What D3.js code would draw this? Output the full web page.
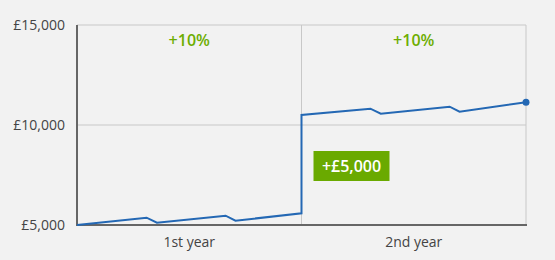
<!DOCTYPE html>
<html>
<head>
<meta charset="utf-8">
<script src="https://cdn.jsdelivr.net/npm/d3@7"></script>
<style>
  body { margin: 0; background: #f2f2f2; }
  svg { display: block; font-family: "Open Sans", sans-serif; }
</style>
</head>
<body>
<svg id="chart" width="555" height="260"></svg>
<script>
// balance over two years (x in years, y in pounds)
var years = [0, 0.31, 0.356, 0.662, 0.706, 1, 1, 1.307, 1.353, 1.66, 1.704, 2]
var balance = [5000, 5365, 5115, 5465, 5215, 5585, 10500, 10815, 10565, 10915, 10665, 11135]
var yTicks = [5000, 10000, 15000]
var periods = ['1st year', '2nd year']
var growthLabels = ['+10%', '+10%']
var depositLabel = '+£5,000'

var svg = d3.select('#chart')
var margin = {top: 25, right: 29, bottom: 35, left: 77}
var width = 555 - margin.left - margin.right
var height = 260 - margin.top - margin.bottom

var g = svg.append('g')
	.attr('transform', 'translate(' + margin.left + ',' + margin.top + ')')

var x = d3.scaleLinear().domain([0, 2]).range([0, width])
var y = d3.scaleLinear().domain([5000, 15000]).range([height, 0])
var band = d3.scaleBand().domain(periods).range([0, width])

// grid
g.selectAll('.hgrid')
	.data(yTicks.slice(1))
	.join('line')
		.attr('x1', 0).attr('x2', width)
		.attr('y1', d => y(d)).attr('y2', d => y(d))
		.attr('stroke', '#c8c8c8')

g.selectAll('.vgrid')
	.data([1, 2])
	.join('line')
		.attr('x1', d => x(d)).attr('x2', d => x(d))
		.attr('y1', 0).attr('y2', height)
		.attr('stroke', '#c8c8c8')

// y tick labels
g.selectAll('.ylab')
	.data(yTicks)
	.join('text')
		.attr('x', -12)
		.attr('y', d => y(d))
		.attr('dy', '0.35em')
		.attr('text-anchor', 'end')
		.attr('font-size', 14)
		.attr('fill', '#444')
		.text(d => '£' + d3.format(',')(d))

// x category labels
g.selectAll('.xlab')
	.data(periods)
	.join('text')
		.attr('x', d => band(d) + band.bandwidth() / 2)
		.attr('y', height + 22)
		.attr('text-anchor', 'middle')
		.attr('font-size', 14)
		.attr('fill', '#444')
		.text(d => d)

// growth labels
g.selectAll('.growth')
	.data(growthLabels)
	.join('text')
		.attr('x', (d, i) => band(periods[i]) + band.bandwidth() / 2)
		.attr('y', 21)
		.attr('text-anchor', 'middle')
		.attr('font-size', 16)
		.attr('font-weight', 600)
		.attr('fill', '#6cad00')
		.text(d => d)

// axes lines
g.append('line')
	.attr('x1', 0).attr('x2', 0).attr('y1', 0).attr('y2', height)
	.attr('stroke', '#666').attr('stroke-width', 2)
g.append('line')
	.attr('x1', -1).attr('x2', width + 1).attr('y1', height).attr('y2', height)
	.attr('stroke', '#666').attr('stroke-width', 2)

// line
var pts = years.map((d, i) => [d, balance[i]])
var line = d3.line().x(d => x(d[0])).y(d => y(d[1]))
g.append('path')
	.datum(pts)
	.attr('d', line)
	.attr('fill', 'none')
	.attr('stroke', '#2468b4')
	.attr('stroke-width', 2)

var last = pts[pts.length - 1]
g.append('circle')
	.attr('cx', x(last[0])).attr('cy', y(last[1]))
	.attr('r', 3.5)
	.attr('fill', '#2468b4')

// deposit label box
var bx = x(1) + 12
var by = y(8700)
g.append('rect')
	.attr('x', bx).attr('y', by)
	.attr('width', 76).attr('height', 30)
	.attr('fill', '#6aaa00')
g.append('text')
	.attr('x', bx + 38).attr('y', by + 15)
	.attr('dy', '0.35em')
	.attr('text-anchor', 'middle')
	.attr('font-size', 16)
	.attr('font-weight', 600)
	.attr('fill', '#fff')
	.text(depositLabel)
</script>
</body>
</html>
